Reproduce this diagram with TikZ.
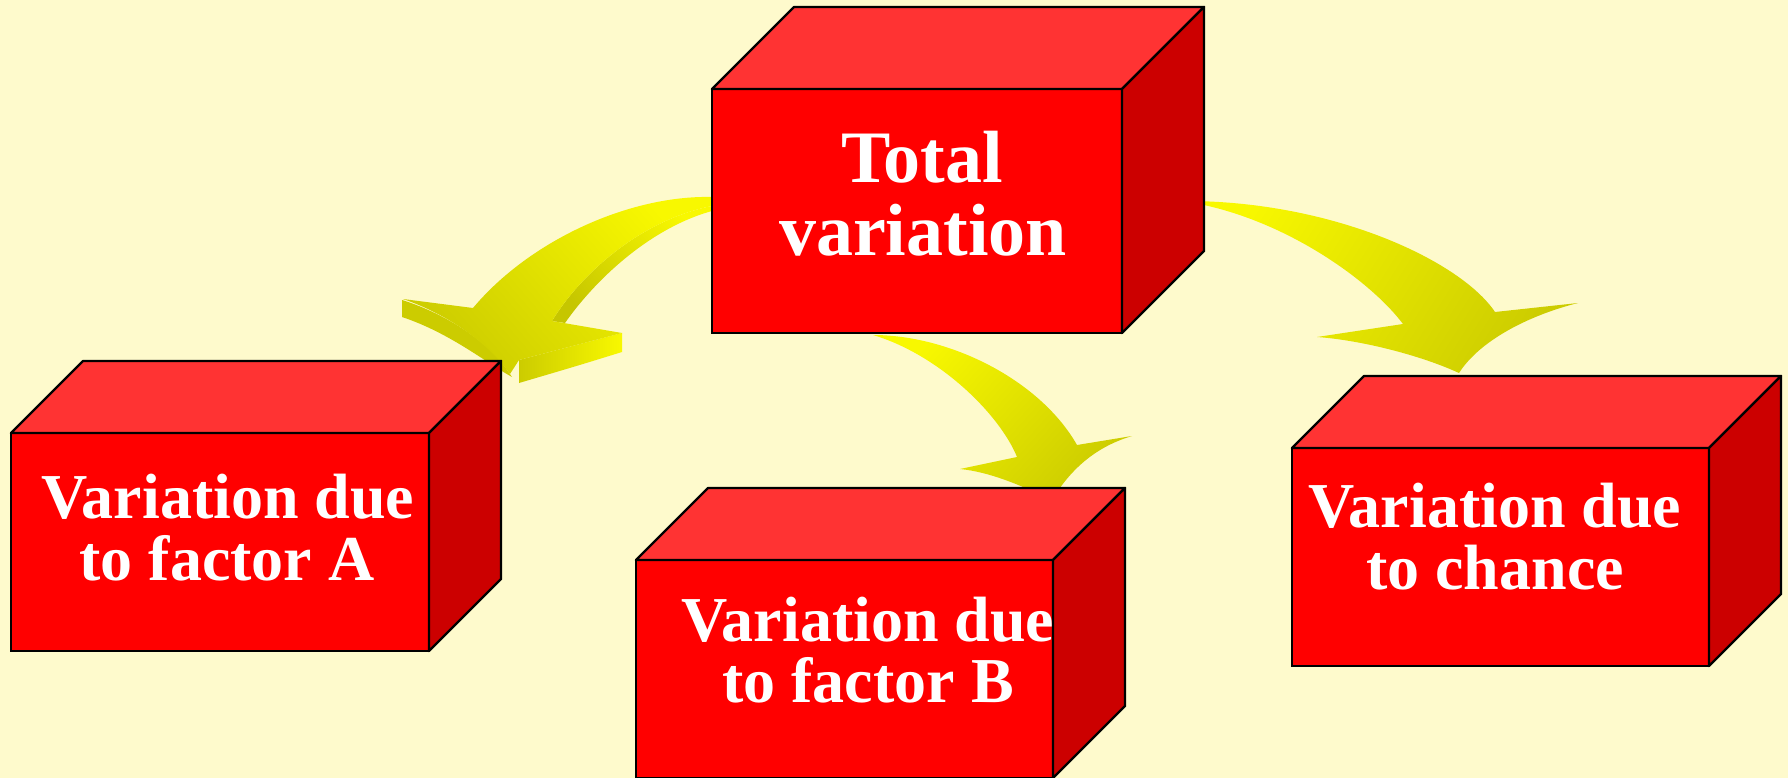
\documentclass[tikz,border=0pt]{standalone}
\usepackage{fontspec}
\setmainfont{Liberation Serif}
\definecolor{bg}{RGB}{254,250,204}
\definecolor{fr}{RGB}{255,0,0}
\definecolor{tp}{RGB}{255,51,51}
\definecolor{sd}{RGB}{204,0,0}
\definecolor{yel}{RGB}{248,248,0}
\definecolor{oli}{RGB}{204,204,0}
\definecolor{dol}{RGB}{198,198,0}
\definecolor{mid}{RGB}{232,232,0}
\tikzset{
  front/.style={draw=black, line width=2.4pt, fill=fr, inner sep=0pt, outer sep=0pt},
  topf/.style={draw=black, line width=2.4pt, fill=tp, line join=round},
  sidef/.style={draw=black, line width=2.4pt, fill=sd, line join=round},
  lbl/.style={text=white, font=\bfseries\fontsize{64}{64}\selectfont, inner sep=0pt, anchor=base},
  biglbl/.style={lbl, font=\bfseries\fontsize{74}{74}\selectfont},
}
\newcommand\cubefaces[2]{%
  \filldraw[topf] (#1.north west) -- ++(#2pt,#2pt) -- ([shift={(#2pt,#2pt)}]#1.north east) -- (#1.north east) -- cycle;
  \filldraw[sidef] (#1.north east) -- ++(#2pt,#2pt) -- ([shift={(#2pt,#2pt)}]#1.south east) -- (#1.south east) -- cycle;
}
\begin{document}
\begin{tikzpicture}[x=1pt,y=-1pt]
\useasboundingbox (0,0) rectangle (1788,778);
\clip (0,0) rectangle (1788,778);
\fill[bg] (0,0) rectangle (1788,778);

% ---- arrow to factor A (3D) ----
% left barb side
\shade[left color=oli, middle color=mid, right color=oli]
  (402,300) -- (402,317) .. controls (450,333) and (485,362) .. (512,377)
  -- (505,367) .. controls (490,345) and (450,315) .. (402,300) -- cycle;
% right barb side
\shade[left color=oli, right color=yel]
  (519,360) -- (622,333) -- (622,352) .. controls (580,365) .. (519,383) -- cycle;
% inner band
\shade[top color=yel, bottom color=dol, shading angle=-49]
  (712,206) .. controls (640,220) and (580,275) .. (552,321)
  -- (565,323) .. controls (595,280) and (650,228) .. (712,211) -- cycle;
% top face
\shade[top color=yel, bottom color=oli, shading angle=-49]
  (712,197) .. controls (630,195) and (530,240) .. (473,308)
  -- (403,299) .. controls (450,315) and (490,345) .. (510,374)
  -- (519,360) -- (622,333) -- (552,321)
  .. controls (580,275) and (640,220) .. (712,206) -- cycle;

% ---- arrow to factor B ----
\shade[top color=yel, bottom color=oli, shading angle=48]
  (873,335) .. controls (950,335) and (1040,380) .. (1077,445)
  -- (1132,436) .. controls (1095,447) and (1070,470) .. (1052,500)
  .. controls (1020,485) and (990,472) .. (960,469)
  -- (1017,457) .. controls (1000,415) and (940,355) .. (873,335) -- cycle;

% ---- arrow to chance ----
\shade[top color=yel, bottom color=oli, shading angle=58]
  (1182,201) .. controls (1330,200) and (1460,260) .. (1495,312)
  -- (1578,303) .. controls (1530,315) and (1480,340) .. (1459,373)
  .. controls (1420,355) and (1360,340) .. (1317,337)
  -- (1403,324) .. controls (1370,280) and (1280,215) .. (1182,201) -- cycle;

% ---- boxes ----
\node[front, minimum width=410pt, minimum height=244pt] (T) at (917,211) {};
\cubefaces{T}{82}
\node[biglbl] (T1) at (922,183) {Total};
\node[biglbl] (T2) at (923,255) {variation};

\node[front, minimum width=418pt, minimum height=218pt] (A) at (220,542) {};
\cubefaces{A}{72}
\node[lbl] (A1) at (228,518) {Variation due};
\node[lbl] (A2) at (227,580) {to factor A};

\node[front, minimum width=417pt, minimum height=218pt] (B) at (844.5,669) {};
\cubefaces{B}{72}
\node[lbl] (B1) at (868,641) {Variation due};
\node[lbl] (B2) at (868,702) {to factor B};

\node[front, minimum width=417pt, minimum height=218pt] (C) at (1500.5,557) {};
\cubefaces{C}{72}
\node[lbl] (C1) at (1495,527) {Variation due};
\node[lbl] (C2) at (1495,589) {to chance};
\end{tikzpicture}
\end{document}
